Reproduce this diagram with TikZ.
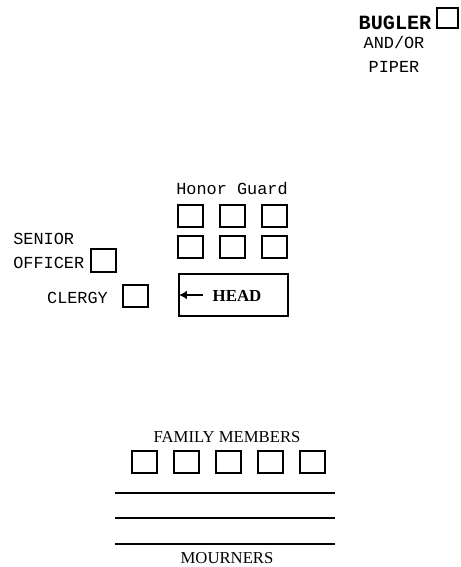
\documentclass[tikz,border=0pt]{standalone}
\usepackage{fontspec}
\setmainfont{Liberation Serif}
\setmonofont{Liberation Mono}
\usetikzlibrary{positioning,arrows.meta}

\begin{document}
\begin{tikzpicture}[
  x=0.02cm, y=-0.02cm,
  node distance=0.34cm,
  spot/.style={draw, line width=0.7pt, minimum width=0.48cm,
               minimum height=0.44cm, inner sep=0pt, outer sep=0pt},
  mono/.style={font=\fontsize{9.6}{11}\ttfamily, inner sep=0pt},
  serif/.style={font=\fontsize{9.5}{11}\selectfont, inner sep=0pt},
  rowline/.style={line width=0.8pt},
  arr/.style={-{Latex[length=4.5pt,width=5pt]}, line width=1pt}
]
  \useasboundingbox (0,0) rectangle (460,567);

  % bugler / piper
  \node[spot, minimum width=0.42cm, minimum height=0.4cm] (bug) at (447.5,18) {};
  \node[mono, font=\fontsize{11.5}{13}\ttfamily\bfseries, anchor=base] (bugler) at (395,30) {BUGLER};
  \node[mono, anchor=base] (andor) at (394,49) {AND/OR};
  \node[mono, anchor=base] (piper) at (394,73) {PIPER};

  % honor guard
  \node[mono, anchor=base] (guard) at (232,195) {Honor Guard};
  \node[spot, minimum width=0.5cm] (g1) at (190.5,216) {};
  \node[spot, minimum width=0.5cm, right=of g1] (g2) {};
  \node[spot, minimum width=0.5cm, right=of g2] (g3) {};
  \node[spot, minimum width=0.5cm, below=0.18cm of g1] (g4) {};
  \node[spot, minimum width=0.5cm, right=of g4] (g5) {};
  \node[spot, minimum width=0.5cm, right=of g5] (g6) {};

  % casket
  \node[spot, minimum width=2.18cm, minimum height=0.84cm] (casket) at (233.5,295) {};
  \node[serif, font=\fontsize{9.6}{11}\bfseries, anchor=base] (head) at (237,301) {HEAD};
  \coordinate (arrtail) at (203,295);
  \draw[arr] (arrtail) -- (casket.west);

  % officer and clergy
  \node[mono, anchor=base west] (senior) at (13,245) {SENIOR};
  \node[mono, anchor=base west] (officer) at (13,268) {OFFICER};
  \node[spot, minimum width=0.5cm, minimum height=0.46cm] (off) at (103.5,260.5) {};
  \node[mono, anchor=base] (clergy) at (77.5,303) {CLERGY};
  \node[spot, minimum width=0.5cm] (cle) at (135.5,296) {};

  % family
  \node[serif, anchor=base] (family) at (227,442) {FAMILY MEMBERS};
  \node[spot, minimum width=0.5cm] (f1) at (144.5,462) {};
  \node[spot, minimum width=0.5cm, right=of f1] (f2) {};
  \node[spot, minimum width=0.5cm, right=of f2] (f3) {};
  \node[spot, minimum width=0.5cm, right=of f3] (f4) {};
  \node[spot, minimum width=0.5cm, right=of f4] (f5) {};

  % mourners
  \foreach \y in {493,518,544}
    \draw[rowline] (115,\y) -- (335,\y);
  \node[serif, anchor=base] (mourners) at (227,563) {MOURNERS};
\end{tikzpicture}
\end{document}
